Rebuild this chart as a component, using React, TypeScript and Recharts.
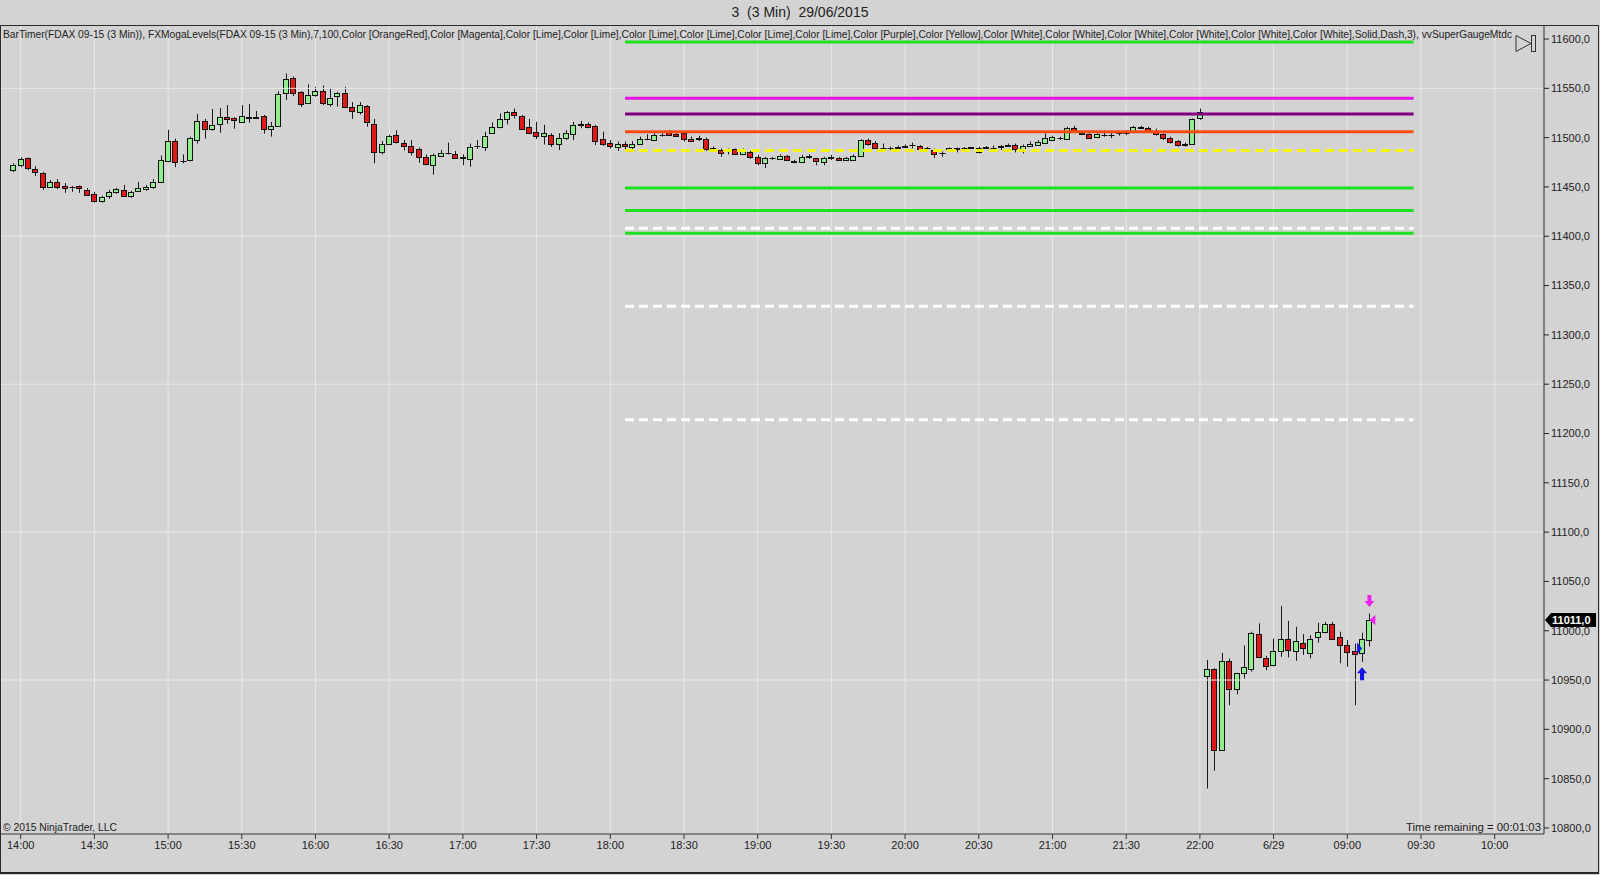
import {
  ComposedChart,
  Bar,
  Scatter,
  XAxis,
  YAxis,
  CartesianGrid,
  ReferenceLine,
} from "recharts";

// bar index 0 = 14:00, one bar every 3 minutes
const firstBar = -1;

const opens = [
  11467, 11472, 11479, 11468, 11464, 11450, 11455, 11451, 11450, 11451,
  11447, 11443, 11436, 11441, 11445, 11447, 11441, 11446, 11448, 11450,
  11455, 11476, 11497, 11476, 11477, 11498, 11517, 11509, 11514, 11521,
  11520, 11516, 11521, 11520, 11522, 11509, 11512, 11545, 11560, 11546,
  11535, 11543, 11547, 11534, 11542, 11545, 11531.5, 11526, 11532, 11514,
  11485, 11494, 11502.5, 11495, 11492, 11488.5, 11480.5, 11472, 11481.5, 11484,
  11483, 11480.5, 11478.5, 11491.5, 11491, 11504.5, 11510.5, 11519, 11526, 11522,
  11510.5, 11505.5, 11502, 11502.5, 11494, 11500, 11504, 11513.5, 11514, 11511.5,
  11499, 11495, 11491, 11494, 11491, 11494, 11498.5, 11497.5, 11502.5, 11505.5,
  11503.5, 11504.5, 11498.5, 11499, 11499, 11488.5, 11487.5, 11488.5, 11488.5, 11483.5,
  11485, 11480.5, 11474, 11479, 11478.5, 11481.5, 11476.5, 11475.5, 11480.5, 11479,
  11475.5, 11479.5, 11479.5, 11477.5, 11477.5, 11481.5, 11497.5, 11495, 11489, 11489.5,
  11490, 11491, 11492.5, 11492, 11489.5, 11487.5, 11484, 11488.5, 11490, 11490,
  11490, 11485, 11490, 11490, 11491, 11492, 11493, 11487.5, 11492, 11492.5,
  11495, 11497.5, 11499.5, 11498.5, 11510, 11504.5, 11503.5, 11500.5, 11502.5, 11503,
  11504.5, 11504.5, 11506.5, 11510, 11510, 11506, 11503.5, 11500, 11496.5, 11492.5,
  11494, 11519.5, 10954.5, 10961, 10879.5, 10969.5, 10940.5, 10957, 10961, 10996.5,
  10972, 10965, 10979.5, 10992, 10979.5, 10988, 10977.5, 10993.5, 10999, 11007,
  10993.5, 10986, 10979.5, 10977.5, 10991,
];

const highs = [
  11474, 11480, 11480, 11471, 11465, 11457, 11458, 11454, 11451, 11451.5,
  11449, 11445, 11441, 11447, 11449, 11452, 11446, 11455, 11452, 11458,
  11482, 11508, 11499, 11483, 11501, 11524, 11519, 11529, 11530, 11533,
  11521, 11533, 11534, 11527, 11523, 11516, 11547, 11565, 11562, 11547,
  11554, 11551.5, 11553, 11550, 11546.5, 11551.5, 11536, 11536, 11533, 11519,
  11496.5, 11503, 11507.5, 11497.5, 11497.5, 11490, 11483, 11484, 11487.5, 11495,
  11486.5, 11483, 11494, 11497.5, 11506, 11515.5, 11524.5, 11527, 11529.5, 11523,
  11519, 11516, 11513, 11504.5, 11504.5, 11507.5, 11516, 11517, 11515.5, 11513,
  11506, 11497.5, 11496, 11496, 11496.5, 11501, 11503.5, 11504.5, 11504.5, 11507.5,
  11506, 11506, 11501, 11502, 11500, 11491, 11489, 11489, 11489, 11489,
  11486.5, 11482.5, 11480.5, 11480.5, 11483, 11482.5, 11477.5, 11482.5, 11483, 11479.5,
  11480.5, 11482.5, 11480.5, 11480.5, 11483, 11498.5, 11499, 11496.5, 11494, 11491,
  11492, 11493, 11495, 11492.5, 11490.5, 11489, 11486, 11490, 11490, 11490.5,
  11490.5, 11491, 11491.5, 11492, 11492.5, 11494, 11494, 11493, 11496, 11497.5,
  11504.5, 11502, 11501, 11511, 11512, 11506.5, 11504.5, 11504.5, 11507.5, 11504.5,
  11505.5, 11507.5, 11512, 11512, 11511, 11509, 11504.5, 11501, 11497.5, 11495,
  11519.5, 11529.5, 10970.5, 10962, 10977.5, 10972, 10957.5, 10985, 10999, 11007.5,
  10974.5, 10992, 11025, 11010, 11004, 10996.5, 10995.5, 11008, 11009, 11009,
  10999, 10990.5, 10987, 10998, 11017.5,
];

const lows = [
  11465, 11470, 11467, 11461, 11447, 11449, 11448, 11444, 11445, 11444,
  11441, 11434, 11434, 11438, 11443, 11440, 11439, 11445, 11446, 11448,
  11454, 11475, 11470, 11474, 11476, 11494, 11499, 11507, 11505, 11514,
  11509, 11515, 11515, 11519, 11504, 11501, 11511, 11538, 11542, 11531,
  11534, 11541.5, 11533, 11531.5, 11531.5, 11530, 11519, 11523.5, 11511, 11474,
  11483, 11492.5, 11494, 11487, 11482, 11474.5, 11472, 11462.5, 11480.5, 11483,
  11479, 11472, 11470.5, 11488.5, 11486.5, 11504, 11509.5, 11513.5, 11519.5, 11508,
  11504, 11498.5, 11493, 11490.5, 11487.5, 11497.5, 11497.5, 11509.5, 11509.5, 11492.5,
  11491.5, 11489, 11486.5, 11488, 11488, 11493.5, 11497.5, 11496.5, 11501, 11502,
  11501, 11496, 11496, 11496.5, 11486.5, 11486.5, 11480.5, 11483, 11483, 11482.5,
  11478.5, 11472, 11469, 11477.5, 11477.5, 11476.5, 11474, 11475, 11478.5, 11472,
  11472, 11477.5, 11476.5, 11476.5, 11476.5, 11480.5, 11492, 11488.5, 11488.5, 11487.5,
  11488.5, 11490, 11489, 11488, 11489, 11479.5, 11480.5, 11486.5, 11485, 11489,
  11489, 11484, 11488.5, 11488.5, 11487.5, 11491, 11485, 11484, 11491, 11492,
  11494, 11496.5, 11497.5, 11497.5, 11506, 11503.5, 11499.5, 11499.5, 11501, 11499.5,
  11502, 11502.5, 11506, 11509, 11506, 11502, 11497.5, 11494, 11491, 11491,
  11493, 11518, 10840, 10858, 10879, 10924.5, 10935.5, 10951.5, 10958.5, 10972,
  10960, 10964, 10973.5, 10973, 10969.5, 10975.5, 10972, 10988, 10997.5, 10991,
  10967, 10963.5, 10924.5, 10968.5, 10984,
];

const closes = [
  11472, 11478, 11469, 11465, 11450, 11455, 11450, 11449, 11449.5, 11449,
  11442, 11436, 11440, 11445, 11448, 11441, 11445, 11449, 11450, 11455,
  11477, 11497, 11475, 11476.5, 11500, 11517, 11509, 11513, 11521, 11519,
  11518, 11522, 11520, 11520.5, 11509, 11512, 11544, 11559, 11545, 11534,
  11543, 11547, 11535, 11540.5, 11545, 11531, 11527, 11533, 11516, 11485,
  11494, 11502, 11496, 11491.5, 11485.5, 11480.5, 11473, 11482.5, 11484.5, 11484.5,
  11479.5, 11479, 11491, 11492, 11502, 11510.5, 11519, 11525.5, 11523, 11508.5,
  11504.5, 11501.5, 11504.5, 11494, 11500, 11504.5, 11513, 11513, 11510.5, 11497,
  11494, 11492, 11493.5, 11492, 11494, 11498.5, 11499, 11502.5, 11503, 11502.5,
  11502, 11498.5, 11497, 11499.5, 11488.5, 11489, 11484.5, 11486.5, 11483.5, 11487.5,
  11480.5, 11474, 11479, 11479.5, 11481.5, 11477.5, 11475, 11480.5, 11481, 11476.5,
  11479.5, 11480, 11477.5, 11479, 11481.5, 11497.5, 11493.5, 11489, 11489.5, 11489,
  11490.5, 11491.5, 11493, 11488.5, 11490, 11483, 11484.5, 11489, 11488.5, 11489.5,
  11490.5, 11490, 11490.5, 11489.5, 11491.5, 11492.5, 11488.5, 11492, 11494, 11496,
  11499.5, 11500.5, 11500, 11510, 11506.5, 11504, 11500, 11503.5, 11503, 11502.5,
  11505, 11505, 11511, 11510.5, 11506.5, 11503.5, 11499.5, 11496, 11492.5, 11494,
  11519, 11525.5, 10961, 10879, 10969.5, 10940.5, 10957, 10963, 10998, 10973,
  10964.5, 10979.5, 10992, 10980.5, 10989.5, 10982, 10992, 10999, 11007, 10992,
  10986, 10978.5, 10976.5, 10992, 11011,
];

const timeLabels = [
  "14:00", "14:30", "15:00", "15:30", "16:00", "16:30", "17:00", "17:30",
  "18:00", "18:30", "19:00", "19:30", "20:00", "20:30", "21:00", "21:30",
  "22:00", "6/29", "09:00", "09:30", "10:00",
];
const barsPerLabel = 10;

const priceTicks = [
  10800, 10850, 10900, 10950, 11000, 11050, 11100, 11150, 11200,
  11250, 11300, 11350, 11400, 11450, 11500, 11550, 11600,
];
const gridPrices = [11550, 11400, 11250, 11100, 10950];

// FXMogaLevels
const levelStartBar = 82;
const levelEndBar = 189;
const limeLevels = [11597, 11449, 11426, 11403];
const magentaLevel = 11540;
const purpleLevel = 11524;
const orangeRedLevel = 11506;
const yellowLevel = 11487;
const whiteLevels = [11408, 11329, 11214];

// vvSuperGauge signals
const buyArrows = [{ bar: 182, price: 10963 }];
const sellArrows = [{ bar: 183, price: 11024 }];
const buyMarks = [{ bar: 181.6, price: 10982 }];
const sellMarks = [{ bar: 183.4, price: 11011 }];

const lastPrice = 11011;

const titleText = "3  (3 Min)  29/06/2015";
const indicatorText =
  "BarTimer(FDAX 09-15 (3 Min)), FXMogaLevels(FDAX 09-15 (3 Min),7,100,Color [OrangeRed],Color [Magenta],Color [Lime],Color [Lime],Color [Lime],Color [Lime],Color [Lime],Color [Lime],Color [Purple],Color [Yellow],Color [White],Color [White],Color [White],Color [White],Color [White],Color [White],Solid,Dash,3), vvSuperGaugeMtdc";
const copyrightText = "© 2015 NinjaTrader, LLC";
const timeRemainingText = "Time remaining = 00:01:03";

const candles = opens.map((open, i) => ({
  bar: firstBar + i,
  open,
  high: highs[i],
  low: lows[i],
  close: closes[i],
  range: [lows[i], highs[i]],
}));

const xTicks = timeLabels.map((_, i) => i * barsPerLabel);

const BG = "#d3d3d3";
const GRID = "#e8e8e8";
const FONT = "'Liberation Sans', Arial, sans-serif";
const UP = "#90ee90";
const DOWN = "#e01818";
const LIME = "#1fe01f";

const formatPrice = (v: number) => v.toFixed(1).replace(".", ",");

const Candle = (props: any) => {
  const { x, y, width, height, payload } = props;
  if (x == null || y == null || !payload) return null;
  const { open, high, low, close } = payload;
  const top = Math.min(y, y + height);
  const h = Math.abs(height);
  const k = high > low ? h / (high - low) : 0;
  const py = (p: number) => top + (high - p) * k;
  const cx = Math.round(x + width / 2);
  const bTop = Math.round(py(Math.max(open, close))) + 0.5;
  const bBot = Math.round(py(Math.min(open, close))) + 0.5;
  return (
    <g>
      <line x1={cx + 0.5} x2={cx + 0.5} y1={top} y2={top + h} stroke="#1a1a1a" />
      {bBot - bTop < 1 ? (
        <line x1={cx - 2.5} x2={cx + 3.5} y1={bTop} y2={bTop} stroke="#111" />
      ) : (
        <rect
          x={cx - 2.5}
          y={bTop}
          width={5}
          height={bBot - bTop}
          fill={close >= open ? UP : DOWN}
          stroke="#111"
        />
      )}
    </g>
  );
};

const SellArrow = ({ cx, cy }: any) => (
  <polygon
    points={`${cx},${cy} ${cx - 5},${cy - 6} ${cx - 2},${cy - 6} ${cx - 2},${cy - 12} ${cx + 2},${cy - 12} ${cx + 2},${cy - 6} ${cx + 5},${cy - 6}`}
    fill="#ee22ee"
  />
);

const BuyArrow = ({ cx, cy }: any) => (
  <polygon
    points={`${cx},${cy} ${cx - 5},${cy + 6} ${cx - 2},${cy + 6} ${cx - 2},${cy + 13} ${cx + 2},${cy + 13} ${cx + 2},${cy + 6} ${cx + 5},${cy + 6}`}
    fill="#1414e6"
  />
);

const SellMark = ({ cx, cy }: any) => (
  <polygon points={`${cx - 3},${cy} ${cx + 3},${cy - 5} ${cx + 3},${cy + 5}`} fill="#ee22ee" />
);

const BuyMark = ({ cx, cy }: any) => (
  <polygon points={`${cx - 2},${cy - 6} ${cx + 3},${cy} ${cx - 2},${cy + 6}`} fill="#1414e6" />
);

const PriceTag = (props: any) => {
  const vb = props.viewBox;
  if (!vb) return null;
  const x = vb.x + vb.width;
  const y = vb.y;
  return (
    <g>
      <polygon
        points={`${x + 1},${y} ${x + 7},${y - 7} ${x + 52},${y - 7} ${x + 52},${y + 7} ${x + 7},${y + 7}`}
        fill="#000"
      />
      <text x={x + 8} y={y + 4} fontSize={11} fill="#fff" fontFamily={FONT} fontWeight="bold">
        {formatPrice(lastPrice)}
      </text>
    </g>
  );
};

const levelSegment = (p: number) => [
  { x: levelStartBar, y: p },
  { x: levelEndBar, y: p },
];

export default function App() {
  return (
    <div
      style={{
        position: "absolute",
        left: 0,
        top: 0,
        width: 1600,
        height: 875,
        background: BG,
        overflow: "hidden",
        fontFamily: FONT,
      }}
    >
      <ComposedChart
        width={1600}
        height={875}
        data={candles}
        margin={{ top: 26, right: 0, bottom: 0, left: 1 }}
      >
        <CartesianGrid horizontal={false} stroke={GRID} />
        <XAxis
          dataKey="bar"
          type="number"
          domain={[-2.67, 206.69]}
          allowDataOverflow
          ticks={xTicks}
          interval={0}
          tickFormatter={(v) => timeLabels[Math.round(v / barsPerLabel)]}
          height={41}
          tickSize={5}
          axisLine={{ stroke: "#858585", strokeWidth: 2 }}
          tickLine={{ stroke: "#333" }}
          tick={{ fontSize: 11, fill: "#222", fontFamily: FONT }}
        />
        <YAxis
          orientation="right"
          type="number"
          domain={[10793.9, 11613.2]}
          allowDataOverflow
          ticks={priceTicks}
          interval={0}
          width={56}
          tickSize={5}
          tickFormatter={formatPrice}
          axisLine={{ stroke: "#222" }}
          tickLine={{ stroke: "#222" }}
          tick={{ fontSize: 11, fill: "#222", fontFamily: FONT }}
        />
        {gridPrices.map((p) => (
          <ReferenceLine key={"g" + p} y={p} stroke={GRID} />
        ))}
        {whiteLevels.map((p) => (
          <ReferenceLine key={"w" + p} segment={levelSegment(p)} stroke="#ffffff" strokeWidth={3} strokeDasharray="9 5" />
        ))}
        {limeLevels.map((p) => (
          <ReferenceLine key={"l" + p} segment={levelSegment(p)} stroke={LIME} strokeWidth={3} />
        ))}
        <ReferenceLine segment={levelSegment(yellowLevel)} stroke="#f5f50a" strokeWidth={3} strokeDasharray="9 5" />
        <ReferenceLine segment={levelSegment(orangeRedLevel)} stroke="#ff4d12" strokeWidth={3} />
        <ReferenceLine segment={levelSegment(purpleLevel)} stroke="#800080" strokeWidth={3} />
        <ReferenceLine segment={levelSegment(magentaLevel)} stroke="#e612e6" strokeWidth={3} />
        <Bar dataKey="range" barSize={5} shape={Candle} isAnimationActive={false} />
        <Scatter data={buyArrows} dataKey="price" shape={BuyArrow} isAnimationActive={false} />
        <Scatter data={sellArrows} dataKey="price" shape={SellArrow} isAnimationActive={false} />
        <Scatter data={buyMarks} dataKey="price" shape={BuyMark} isAnimationActive={false} />
        <Scatter data={sellMarks} dataKey="price" shape={SellMark} isAnimationActive={false} />
        <ReferenceLine y={lastPrice} stroke="none" label={(p: any) => <PriceTag {...p} />} />
      </ComposedChart>

      <svg
        width={1600}
        height={875}
        style={{ position: "absolute", left: 0, top: 0, pointerEvents: "none" }}
      >
        <text x={800} y={17} fontSize={14} fill="#222" textAnchor="middle" style={{ whiteSpace: "pre" }}>
          {titleText}
        </text>
        <text x={3} y={37.5} fontSize={10.3} fill="#222" textLength={1509} lengthAdjust="spacingAndGlyphs">
          {indicatorText}
        </text>
        <polygon points="1516,35.5 1531,43.5 1516,51.5" fill={BG} stroke="#333" />
        <rect x={1531.5} y={35.5} width={4} height={16} fill={BG} stroke="#333" />
        <text x={3} y={830.5} fontSize={10.5} fill="#222" textLength={114} lengthAdjust="spacingAndGlyphs">
          {copyrightText}
        </text>
        <text x={1541} y={830.5} fontSize={11} fill="#222" textAnchor="end" textLength={135} lengthAdjust="spacingAndGlyphs">
          {timeRemainingText}
        </text>
      </svg>

      <div
        style={{
          position: "absolute",
          left: 0,
          top: 25,
          width: 1599,
          height: 849,
          boxSizing: "border-box",
          borderTop: "1px solid #2a2a2a",
          borderLeft: "1px solid #2a2a2a",
          borderRight: "1px solid #2a2a2a",
          borderBottom: "2px solid #2a2a2a",
          pointerEvents: "none",
        }}
      />
    </div>
  );
}
